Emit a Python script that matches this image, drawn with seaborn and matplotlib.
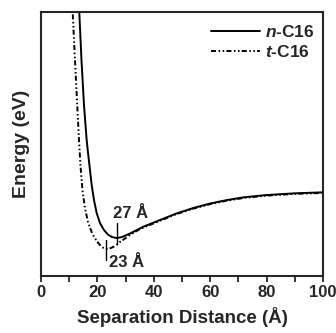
import pandas as pd
import matplotlib.pyplot as plt
import seaborn as sns

# values (energy in arbitrary eV units)
n_dist = [13.3, 13.58, 14.36, 15.25, 16.2, 16.77, 17.38, 17.98, 18.8, 19.75, 20.92,
          22.34, 23.76, 25.18, 26.84, 28.7, 31.56, 36.28, 42.2, 48.0, 54.0,
          60.0, 66.0, 72.0, 80.0, 90.0, 100.0]
n_energy = [0.40, 0.356, 0.26, 0.17, 0.10, 0.07, 0.04, 0.01, -0.02, -0.046, -0.066,
            -0.08, -0.089, -0.094, -0.096, -0.094, -0.087, -0.0734, -0.06, -0.047, -0.036,
            -0.027, -0.020, -0.0145, -0.010, -0.0066, -0.0046]

t_dist = [10.8, 11.24, 12.23, 13.48, 14.0, 14.7, 15.6, 16.67, 18.09, 19.75, 21.5,
          23.05, 24.8, 26.6, 28.0, 31.56, 35.1, 42.2, 48.0, 54.0,
          60.0, 66.0, 72.0, 80.0, 90.0, 100.0]
t_energy = [0.40, 0.356, 0.24, 0.10, 0.05, 0.0, -0.036, -0.064, -0.086, -0.102, -0.114,
            -0.118, -0.116, -0.111, -0.104, -0.09, -0.078, -0.0615, -0.0482, -0.0372,
            -0.0282, -0.0212, -0.0157, -0.0112, -0.0078, -0.0058]

# minimum markers
min_labels = ['27 Å', '23 Å']
min_x = [27, 23]
min_lo = [-0.107, -0.14]
min_hi = [-0.065, -0.099]
label_x = [25.5, 24.3]
label_y = [-0.046, -0.145]

df = pd.concat([
    pd.DataFrame({'Distance': n_dist, 'Energy': n_energy, 'Molecule': 'n'}),
    pd.DataFrame({'Distance': t_dist, 'Energy': t_energy, 'Molecule': 't'}),
])

sns.set_style('ticks')
plt.rcParams['font.family'] = ['Liberation Sans', 'DejaVu Sans']
plt.rcParams['font.weight'] = 'bold'
plt.rcParams['mathtext.fontset'] = 'custom'
plt.rcParams['mathtext.it'] = 'Liberation Sans:italic:bold'
plt.rcParams['mathtext.rm'] = 'Liberation Sans:bold'

dashdotdot = (2.6, 1.3, 0.8, 1.3, 0.8, 1.1)

fig = plt.figure(figsize=(3.36, 3.33), dpi=100)
ax = fig.add_axes([0.122, 0.171, 0.839, 0.793])

sns.lineplot(data=df, x='Distance', y='Energy', style='Molecule', color='black',
             dashes={'n': '', 't': dashdotdot}, linewidth=1.4,
             style_order=['n', 't'], ax=ax, legend=False)

# legend entries drawn separately to get the italic prefixes
ax.plot([], [], color='black', lw=1.4, label=r'$\it{n}$-C16')
ax.plot([], [], color='black', lw=1.4, dashes=dashdotdot, label=r'$\it{t}$-C16')
ax.legend(loc='upper right', frameon=False, fontsize=12.5, handlelength=2.8,
          handletextpad=0.3, labelspacing=0.25, bbox_to_anchor=(1.025, 1.015))

for xm, lo, hi, lab, lx, ly in zip(min_x, min_lo, min_hi, min_labels, label_x, label_y):
    ax.plot([xm, xm], [lo, hi], color='black', lw=1.0)
    ax.text(lx, ly, lab, fontsize=12, fontweight='bold', va='center', ha='left')

ax.set_xlim(0, 100)
ax.set_ylim(-0.172, 0.356)
ax.set_xticks([0, 20, 40, 60, 80, 100])
ax.set_xticks([10, 30, 50, 70, 90], minor=True)
ax.set_yticks([])
ax.tick_params(axis='x', which='both', direction='out', length=4, width=1.3,
               labelsize=12, pad=2.5)
for s in ax.spines.values():
    s.set_visible(True)
    s.set_linewidth(1.5)
for lbl in ax.get_xticklabels():
    lbl.set_fontweight('bold')

ax.set_xlabel('Separation Distance (Å)', fontsize=13.5, fontweight='bold', labelpad=5)
ax.set_ylabel('Energy (eV)', fontsize=14, fontweight='bold', labelpad=8)

fig.savefig('out.png', dpi=100)
